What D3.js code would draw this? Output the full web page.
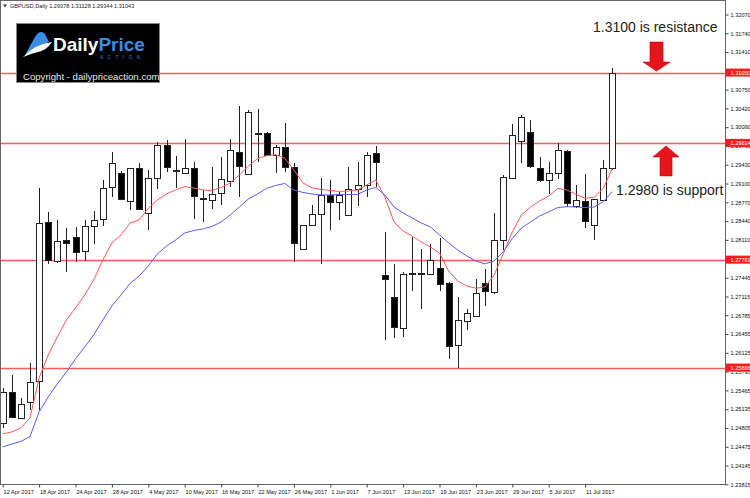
<!DOCTYPE html>
<html>
<head>
<meta charset="utf-8">
<script src="https://cdn.jsdelivr.net/npm/d3@7"></script>
<style>
    body { margin: 0; background: #fff; }
    svg { display: block; font-family: "Liberation Sans", Arial, sans-serif; }
    .axis text { font-size: 5.6px; fill: #111; }
    .axis line { stroke: #444; }
    .axis path { display: none; }
</style>
</head>
<body>
<div id="chart"></div>
<script>
// GBPUSD daily bars, 12 Apr 2017 - 14 Jul 2017
var dates = [
    "2017-04-12","2017-04-13","2017-04-14","2017-04-17","2017-04-18","2017-04-19","2017-04-20","2017-04-21",
    "2017-04-24","2017-04-25","2017-04-26","2017-04-27","2017-04-28","2017-05-01","2017-05-02","2017-05-03",
    "2017-05-04","2017-05-05","2017-05-08","2017-05-09","2017-05-10","2017-05-11","2017-05-12","2017-05-15",
    "2017-05-16","2017-05-17","2017-05-18","2017-05-19","2017-05-22","2017-05-23","2017-05-24","2017-05-25",
    "2017-05-26","2017-05-29","2017-05-30","2017-05-31","2017-06-01","2017-06-02","2017-06-05","2017-06-06",
    "2017-06-07","2017-06-08","2017-06-09","2017-06-12","2017-06-13","2017-06-14","2017-06-15","2017-06-16",
    "2017-06-19","2017-06-20","2017-06-21","2017-06-22","2017-06-23","2017-06-26","2017-06-27","2017-06-28",
    "2017-06-29","2017-06-30","2017-07-03","2017-07-04","2017-07-05","2017-07-06","2017-07-07","2017-07-10",
    "2017-07-11","2017-07-12","2017-07-13","2017-07-14"
];

var opens = [
    1.24898,1.25432,1.24986,1.25250,1.25619,1.28430,1.27739,1.28108,1.28166,1.27915,1.28359,1.28472,1.29034,
    1.29280,1.28793,1.29368,1.28583,1.29203,1.29777,1.29338,1.29280,1.29368,1.28841,1.28811,1.28937,1.29145,
    1.29659,1.29280,1.29983,1.29983,1.29602,1.29748,1.29396,1.27945,1.28372,1.28560,1.28899,1.28781,1.28535,
    1.28999,1.29075,1.29632,1.27493,1.27101,1.26567,1.27528,1.27528,1.27511,1.27622,1.27347,1.26263,1.26688,
    1.26773,1.27347,1.27200,1.28108,1.29210,1.29849,1.30000,1.29378,1.29175,1.29290,1.29672,1.28714,1.28793,
    1.28363,1.28811,1.29378
];
var highs = [
    1.25508,1.25736,1.25327,1.25952,1.29017,1.28595,1.28460,1.28324,1.28342,1.28460,1.28618,1.29162,1.29649,
    1.29321,1.29373,1.29464,1.29338,1.29835,1.29865,1.29589,1.29878,1.29484,1.28987,1.29386,1.29572,1.29883,
    1.30463,1.30392,1.30410,1.30006,1.29777,1.30159,1.29456,1.28372,1.28723,1.29192,1.29162,1.28957,1.29396,
    1.29484,1.29659,1.29760,1.28254,1.27687,1.27551,1.28166,1.27950,1.28038,1.28138,1.27370,1.27101,1.26891,
    1.27423,1.27606,1.28577,1.29250,1.30146,1.30304,1.30217,1.29572,1.29473,1.29818,1.29689,1.29075,1.29268,
    1.28829,1.29512,1.31128
];
var lows = [
    1.24805,1.24976,1.24963,1.25121,1.25121,1.27681,1.27709,1.27541,1.27716,1.27739,1.28038,1.28354,1.28869,
    1.28811,1.28635,1.28635,1.28284,1.28999,1.29308,1.29017,1.29268,1.28477,1.28430,1.28648,1.28723,1.29047,
    1.28869,1.29268,1.29484,1.29584,1.29280,1.29308,1.27727,1.27932,1.28354,1.27681,1.28284,1.28460,1.28530,
    1.28706,1.28869,1.29047,1.26351,1.26386,1.26409,1.27217,1.26896,1.27493,1.27217,1.26012,1.25865,1.26527,
    1.26750,1.26942,1.27159,1.27932,1.29198,1.29456,1.29373,1.29125,1.28916,1.29180,1.28693,1.28664,1.28310,
    1.28108,1.28793,1.29344
];
var closes = [
    1.25443,1.24986,1.25227,1.25608,1.28402,1.27757,1.28096,1.28050,1.27903,1.28354,1.28460,1.29017,1.29456,
    1.28829,1.29368,1.28648,1.29192,1.29777,1.29396,1.29333,1.29368,1.28869,1.28834,1.28916,1.29175,1.29689,
    1.29408,1.30362,1.29971,1.29602,1.29748,1.29396,1.28068,1.28372,1.28560,1.28899,1.28781,1.28899,1.28999,
    1.29075,1.29602,1.29473,1.27418,1.26574,1.27511,1.27506,1.27520,1.27757,1.27347,1.26246,1.26701,1.26820,
    1.27182,1.27200,1.28108,1.29220,1.29961,1.30264,1.29396,1.29175,1.29290,1.29689,1.28764,1.28811,1.28442,
    1.28823,1.29368,1.31043
];

// moving averages as drawn on the chart (red = fast, blue = slow)
var maFast = [
    1.24700,1.24735,1.24805,1.24981,1.25684,1.26088,1.26404,1.26701,1.26913,1.27142,1.27405,1.27757,1.28056,
    1.28196,1.28407,1.28460,1.28663,1.28811,1.28916,1.28988,1.29045,1.29022,1.28987,1.28978,1.29031,1.29110,
    1.29250,1.29408,1.29537,1.29589,1.29607,1.29544,1.29338,1.29110,1.29022,1.28996,1.28978,1.28960,1.28969,
    1.28987,1.29075,1.29162,1.28864,1.28424,1.28266,1.28179,1.28073,1.27985,1.27880,1.27563,1.27388,1.27300,
    1.27260,1.27282,1.27493,1.27862,1.28249,1.28547,1.28688,1.28793,1.28881,1.29013,1.28987,1.28910,1.28840,
    1.28858,1.29017,1.29368
];
var maSlow = [
    1.24471,1.24524,1.24568,1.24656,1.25086,1.25350,1.25578,1.25789,1.26017,1.26228,1.26439,1.26701,1.26949,
    1.27142,1.27347,1.27476,1.27651,1.27862,1.28003,1.28108,1.28231,1.28275,1.28302,1.28345,1.28424,1.28547,
    1.28688,1.28829,1.28916,1.29017,1.29066,1.29101,1.28987,1.28943,1.28916,1.28899,1.28899,1.28908,1.28908,
    1.28910,1.28987,1.29031,1.28899,1.28688,1.28583,1.28495,1.28407,1.28337,1.28196,1.28056,1.27932,1.27827,
    1.27739,1.27687,1.27739,1.27897,1.28133,1.28319,1.28424,1.28530,1.28602,1.28678,1.28693,1.28688,1.28678,
    1.28688,1.28781,1.28957
];

var levels = [1.31050, 1.29814, 1.27763, 1.25866];

var priceTicks = [
    1.32070,1.31740,1.31410,1.31080,1.30750,1.30420,1.30090,1.29760,1.29430,1.29100,1.28770,1.28440,1.28110,
    1.27780,1.27445,1.27115,1.26785,1.26455,1.26125,1.25795,1.25465,1.25135,1.24805,1.24475,1.24145,1.23815
];

var notes = [
    { text: "1.3100 is resistance", level: 1.31050, dir: "down" },
    { text: "1.2980 is support", level: 1.29814, dir: "up" }
];

CandleChart = function(_parentElement){
    var vis = this;
    vis.parentElement = _parentElement;
    vis.initVis();
};

CandleChart.prototype.initVis = function(){
    var vis = this;

    vis.fullW = 750;
    vis.fullH = 498;
    vis.plot = { left: 0.5, top: 0.5, right: 725.5, bottom: 484.5 };

    vis.svg = d3.select("#" + vis.parentElement).append("svg")
        .attr("width", vis.fullW)
        .attr("height", vis.fullH);

    vis.x = d3.scaleLinear()
        .domain([0, dates.length - 1])
        .range([2.7, 612.4]);

    vis.y = d3.scaleLinear()
        .domain([d3.min(priceTicks), d3.max(priceTicks)])
        .range([484.3, 14.5]);

    vis.svg.append("defs").append("clipPath")
        .attr("id", "clip")
        .append("rect")
        .attr("x", 1).attr("y", 1)
        .attr("width", 724).attr("height", 483);

    vis.wrangleData();
};

CandleChart.prototype.wrangleData = function(){
    var vis = this;
    vis.bars = dates.map(function(d, i){
        return { i: i, date: d, o: opens[i], h: highs[i], l: lows[i], c: closes[i] };
    });
    vis.updateVis();
};

CandleChart.prototype.updateVis = function(){
    var vis = this;
    var x = vis.x, y = vis.y;
    var px = function(v){ return Math.round(v) + 0.5; };

    // level lines
    vis.svg.append("g").selectAll("line.level")
        .data(levels).enter().append("line")
        .attr("class", "level")
        .attr("x1", 1).attr("x2", 725)
        .attr("y1", function(d){ return px(y(d)); })
        .attr("y2", function(d){ return px(y(d)); })
        .attr("stroke", "#ff5a5a")
        .attr("stroke-width", 1.4);

    var body = vis.svg.append("g").attr("clip-path", "url(#clip)");

    // candles
    var candle = body.selectAll("g.candle")
        .data(vis.bars).enter().append("g")
        .attr("class", "candle")
        .attr("shape-rendering", "crispEdges");

    candle.append("line")
        .attr("x1", function(d){ return px(x(d.i)); })
        .attr("x2", function(d){ return px(x(d.i)); })
        .attr("y1", function(d){ return y(d.h); })
        .attr("y2", function(d){ return y(d.l); })
        .attr("stroke", "#222");

    candle.append("rect")
        .attr("x", function(d){ return Math.round(x(d.i)) - 2.5; })
        .attr("width", 6)
        .attr("y", function(d){ return Math.round(y(Math.max(d.o, d.c))) + 0.5; })
        .attr("height", function(d){ return Math.max(1, Math.round(Math.abs(y(d.o) - y(d.c)))); })
        .attr("fill", function(d){ return d.c >= d.o ? "#fff" : "#000"; })
        .attr("stroke", "#222");

    // moving averages
    var line = d3.line()
        .x(function(d, i){ return x(i); })
        .y(function(d){ return y(d); });

    body.append("path").datum(maFast)
        .attr("d", line).attr("fill", "none")
        .attr("stroke", "#ff5757").attr("stroke-width", 1);

    body.append("path").datum(maSlow)
        .attr("d", line).attr("fill", "none")
        .attr("stroke", "#5b5bff").attr("stroke-width", 1);

    // frame
    vis.svg.append("rect")
        .attr("x", vis.plot.left).attr("y", vis.plot.top)
        .attr("width", vis.plot.right - vis.plot.left)
        .attr("height", vis.plot.bottom - vis.plot.top)
        .attr("fill", "none").attr("stroke", "#666");

    // price axis
    vis.yAxis = d3.axisRight(y)
        .tickValues(priceTicks)
        .tickFormat(d3.format(".5f"))
        .tickSize(3).tickPadding(2);

    vis.svg.append("g").attr("class", "axis")
        .attr("transform", "translate(725.5,0)")
        .call(vis.yAxis);

    // level price tags
    var tag = vis.svg.append("g").selectAll("g.tag")
        .data(levels).enter().append("g")
        .attr("transform", function(d){ return "translate(726," + y(d) + ")"; });
    tag.append("rect")
        .attr("x", 0).attr("y", -4).attr("width", 24).attr("height", 8)
        .attr("fill", "#ff1a1a");
    tag.append("text")
        .attr("x", 4.5).attr("y", 2)
        .attr("font-size", "5.6px").attr("fill", "#fff")
        .text(d3.format(".5f"));

    // date axis
    var parse = d3.timeParse("%Y-%m-%d");
    var fmt = d3.timeFormat("%-d %b %Y");
    var labelIdx = d3.range(0, dates.length, 4);

    vis.xAxis = d3.axisBottom(x)
        .tickValues(labelIdx)
        .tickFormat(function(i){ return fmt(parse(dates[i])); })
        .tickSize(3).tickPadding(3);

    vis.svg.append("g").attr("class", "axis")
        .attr("transform", "translate(0,484.5)")
        .call(vis.xAxis)
        .selectAll("text")
        .attr("text-anchor", "start")
        .attr("dx", "0.4px");

    // header
    vis.svg.append("path")
        .attr("d", "M3,4.5 L7,4.5 L5,7.5 Z")
        .attr("fill", "#333");
    vis.svg.append("text")
        .attr("x", 10).attr("y", 8)
        .attr("font-size", "5.6px").attr("fill", "#222")
        .text("GBPUSD,Daily  " + [opens, highs, lows, closes].map(function(a){
            return d3.format(".5f")(a[a.length - 1]);
        }).join(" "));

    vis.drawLogo();
    vis.drawNotes();
};

CandleChart.prototype.drawLogo = function(){
    var vis = this;
    var g = vis.svg.append("g");

    g.append("rect")
        .attr("x", 16.5).attr("y", 23.5).attr("width", 143).attr("height", 59)
        .attr("fill", "#000").attr("stroke", "#888");

    g.append("path")
        .attr("d", "M25,55 L35,37 Q40,29 45,34 L49,42 Q40,45 31,53 Z")
        .attr("fill", "#3b8ee6");
    g.append("path")
        .attr("d", "M23,57 Q35,44 52,42 Q47,50 38,52 Q30,54 23,57 Z")
        .attr("fill", "#fff");

    var t = g.append("text")
        .attr("x", 53).attr("y", 51)
        .attr("font-size", "19px").attr("font-weight", "bold");
    t.append("tspan").attr("fill", "#fff").text("Daily");
    t.append("tspan").attr("fill", "#3b8ee6").text("Price");

    g.append("text")
        .attr("x", 100).attr("y", 59)
        .attr("font-size", "4.5px").attr("letter-spacing", "4.6px")
        .attr("fill", "#3b8ee6")
        .text("ACTION");

    g.append("text")
        .attr("x", 23).attr("y", 79.5)
        .attr("font-size", "9.6px").attr("fill", "#e8e8e8")
        .text("Copyright - dailypriceaction.com");
};

CandleChart.prototype.drawNotes = function(){
    var vis = this;
    var y = vis.y;

    // resistance note and arrow
    vis.svg.append("text")
        .attr("x", 593).attr("y", 31.5)
        .attr("font-size", "14px").attr("fill", "#222")
        .text(notes[0].text);

    var tipD = y(notes[0].level) - 1.5;
    vis.svg.append("path")
        .attr("d", "M656.5," + tipD + " L643," + (tipD - 9) + " L650," + (tipD - 9) +
            " L650," + (tipD - 29) + " L663," + (tipD - 29) + " L663," + (tipD - 9) +
            " L670," + (tipD - 9) + " Z")
        .attr("fill", "#e8141c").attr("stroke", "#b00").attr("stroke-width", 0.6);

    // support note and arrow
    var tipU = y(notes[1].level) + 3;
    vis.svg.append("path")
        .attr("d", "M666," + tipU + " L679," + (tipU + 11) + " L672," + (tipU + 11) +
            " L672," + (tipU + 30) + " L660," + (tipU + 30) + " L660," + (tipU + 11) +
            " L653," + (tipU + 11) + " Z")
        .attr("fill", "#e8141c").attr("stroke", "#b00").attr("stroke-width", 0.6);

    vis.svg.append("text")
        .attr("x", 616).attr("y", 195)
        .attr("font-size", "14px").attr("fill", "#222")
        .text(notes[1].text);
};

var chart = new CandleChart("chart");
</script>
</body>
</html>
